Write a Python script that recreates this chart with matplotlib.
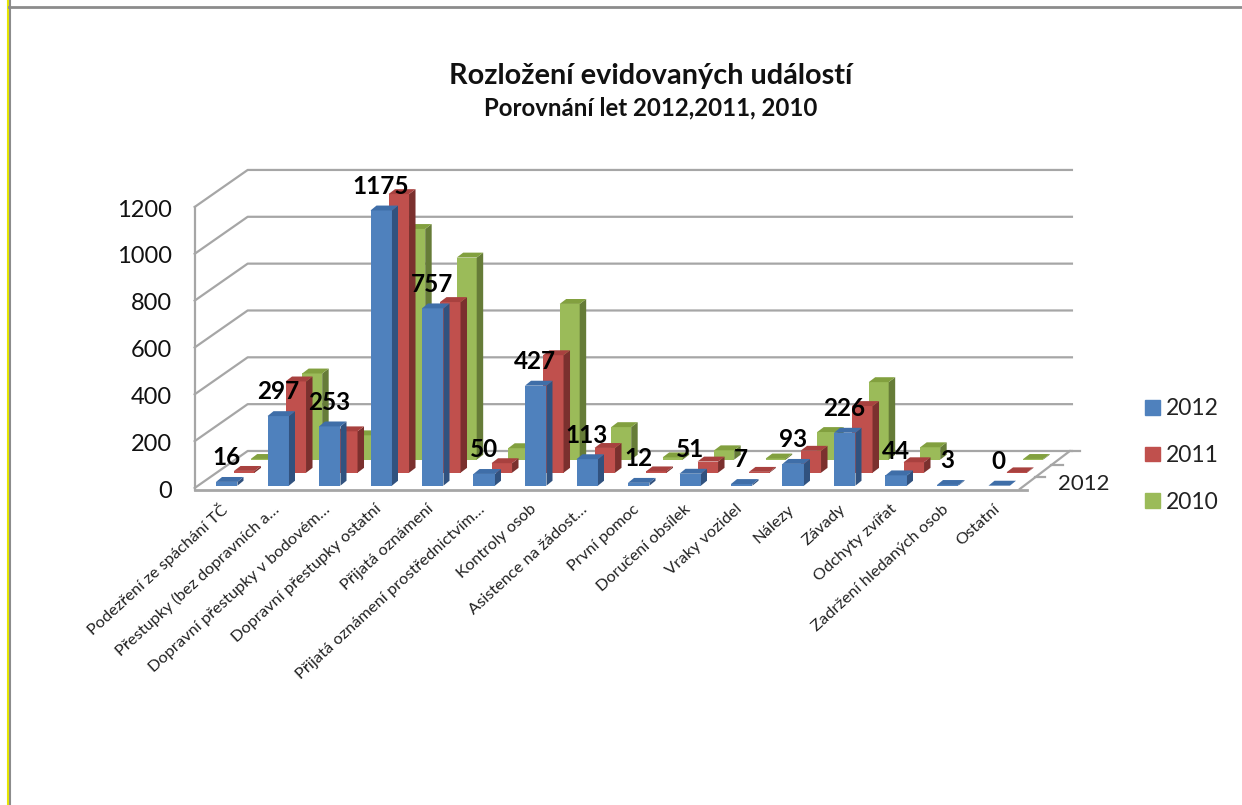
import numpy as np
from matplotlib import pyplot as plt
from matplotlib.patches import Patch

categories = ['Podezření ze spáchání TČ', 'Přestupky (bez dopravních a…', 'Dopravní přestupky v bodovém…',
              'Dopravní přestupky ostatní', 'Přijatá oznámení', 'Přijatá oznámení prostřednictvím…',
              'Kontroly osob', 'Asistence na žádost…', 'První pomoc', 'Doručení obsílek', 'Vraky vozidel',
              'Nálezy', 'Závady', 'Odchyty zvířat', 'Zadržení hledaných osob', 'Ostatní']
values_2012 = [16, 297, 253, 1175, 757, 50, 427, 113, 12, 51, 7, 93, 226, 44, 3, 0]
values_2011 = [8, 390, 177, 1190, 729, 41, 502, 106, 6, 48, 4, 94, 285, 45, np.nan, 2]
values_2010 = [3, 368, 104, 985, 863, 49, 665, 139, 10, 40, 5, 118, 331, 53, np.nan, 3]
y_ticks = [0, 200, 400, 600, 800, 1000, 1200]

# one category = 51.5 px, one unit = 0.2342 px, origin of the front wall at (216, 488)
STEP = 51.5
UNIT = 0.2342
X0, Y0 = 216, 488
DEPTH_Y = 21

# back row first so the front row covers it
rows = [
    dict(name='2010', vals=values_2010, dx=0.674, base=121, w=0.388, ddx=0.126,
         front='#9BBB59', side='#667C38', top='#82A03F'),
    dict(name='2011', vals=values_2011, dx=0.350, base=65, w=0.398, ddx=0.126,
         front='#C0504D', side='#7B302E', top='#A8413F'),
    dict(name='2012', vals=values_2012, dx=0.0, base=10, w=0.417, ddx=0.117,
         front='#4F81BD', side='#31527F', top='#3F6EA8'),
]


def bar3(ax, x, v, r):
    y0, y1 = r['base'], r['base'] + v
    w, ddx = r['w'], r['ddx']
    ax.fill([x, x + w, x + w, x], [y0, y0, y1, y1], color=r['front'], lw=0, zorder=3)
    ax.fill([x + w, x + w + ddx, x + w + ddx, x + w], [y0, y0 + DEPTH_Y, y1 + DEPTH_Y, y1],
            color=r['side'], lw=0, zorder=3)
    ax.fill([x, x + w, x + w + ddx, x + ddx], [y1, y1, y1 + DEPTH_Y, y1 + DEPTH_Y],
            color=r['top'], lw=0, zorder=3)


plt.rcParams['font.family'] = ['Lato', 'DejaVu Sans']
fig = plt.figure(figsize=(12.42, 8.05), dpi=100)
ax = fig.add_axes([0, 0, 1, 1])
ax.set_xlim(-X0 / STEP, (1242 - X0) / STEP)
ax.set_ylim((Y0 - 805) / UNIT, Y0 / UNIT)
ax.axis('off')

# page frame
ax.axvline((8.3 - X0) / STEP, color='#E6E600', lw=1.5, zorder=1)
ax.axvline((10 - X0) / STEP, color='#8C8C8C', lw=1.5, zorder=1)
ax.plot([(9 - X0) / STEP, (1242 - X0) / STEP], [(Y0 - 7) / UNIT] * 2, color='#8C8C8C', lw=2, zorder=1)

# walls and floor
grid = '#A6A6A6'
wall_x, back_x, right_x = -0.414, 0.615, 16.62
back_dy = 158
for v in y_ticks:
    ax.plot([wall_x, back_x, right_x], [v, v + back_dy, v + back_dy], color=grid, lw=1.6, zorder=2)
    ax.text(-0.85, v - 13, str(v), ha='right', va='center', fontsize=17, color='#111111')
ax.plot([wall_x, wall_x], [1200, -8], color=grid, lw=1.6, zorder=2)
ax.plot([wall_x, 15.75], [-8, -8], color=grid, lw=2, zorder=2)
ax.plot([right_x, 16.77], [back_dy, back_dy], color=grid, lw=1.6, zorder=2)
ax.plot([15.61, 16.58], [-4, back_dy], color=grid, lw=1.6, zorder=2)
ax.plot([15.9, 16.1], [47, 47], color=grid, lw=1.6, zorder=2)
ax.plot([16.22, 16.45], [98, 98], color=grid, lw=1.6, zorder=2)
ax.text(16.34, 15, '2012', ha='left', va='center', fontsize=16, color='#222222')

for r in rows:
    for i, v in enumerate(r['vals']):
        if not np.isnan(v):
            bar3(ax, i + r['dx'], v, r)

# value labels sit over the front row
for i, v in enumerate(values_2012):
    ax.text(i + 0.2, v + 113, str(v), ha='center', va='center', fontsize=17.5, fontweight='bold',
            color='black', zorder=5)

for i, c in enumerate(categories):
    ax.text(i + 0.18, -82, c, rotation=42.5, rotation_mode='anchor', ha='right', va='center',
            fontsize=11.8, color='#222222')

ax.text(8.45, (Y0 - 76) / UNIT, 'Rozložení evidovaných událostí', ha='center', va='center',
        fontsize=20.8, fontweight='bold', color='#111111')
ax.text(8.45, (Y0 - 108) / UNIT, 'Porovnání let 2012,2011, 2010', ha='center', va='center',
        fontsize=17.3, fontweight='bold', color='#111111')

handles = [Patch(color=r['front'], label=r['name']) for r in rows[::-1]]
ax.legend(handles=handles, loc='center left', bbox_to_anchor=(1145 / 1242, 1 - 455.5 / 805), frameon=False,
          fontsize=16.5, labelspacing=1.12, handlelength=0.66, handleheight=0.62, handletextpad=0.25,
          borderpad=0, borderaxespad=0, labelcolor='#222222')

fig.savefig('out.png', dpi=100)
